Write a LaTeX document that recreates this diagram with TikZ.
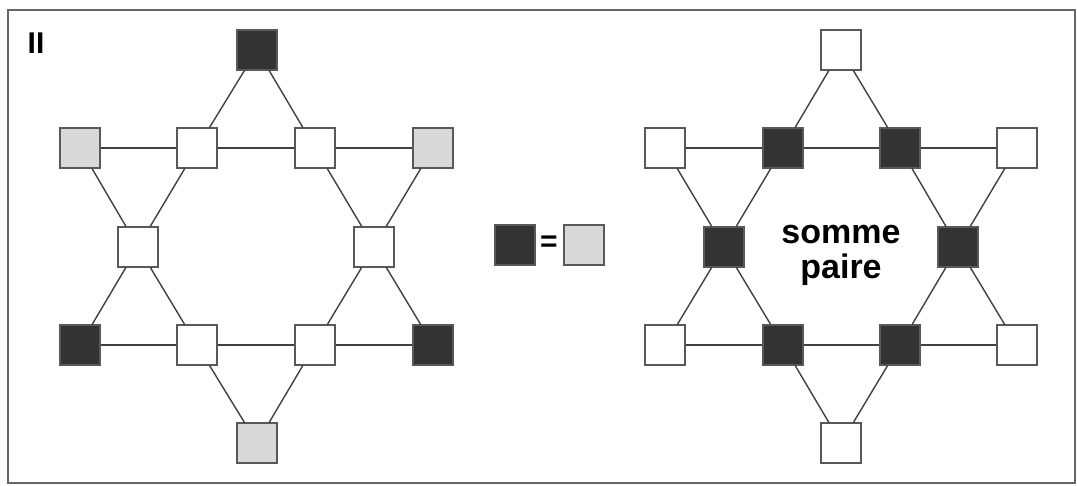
\documentclass[tikz,border=0pt]{standalone}
\usepackage{fontspec}
\setmainfont{Liberation Sans}
\begin{document}
\begin{tikzpicture}[x=1pt,y=-1pt,
  sq/.style={draw=black!65,line width=1.1pt,minimum size=40pt,inner sep=0pt,fill=white},
  dk/.style={sq,fill=black!80},
  lt/.style={sq,fill=black!15},
  wt/.style={sq},
  edge/.style={draw=black!75,line width=1.4pt}]
\useasboundingbox (0,0) rectangle (1077,486);
\draw[black!60,line width=1.5pt] (8,10) rectangle (1075,483);
\node[font=\bfseries\fontsize{30}{30}\selectfont,anchor=center] (lab) at (36,43) {II};
% left star
\begin{scope}[shift={(257,0)}]
\node[dk] (Lt) at (0,50) {};
\node[lt] (La) at (-177,148) {};
\node[wt] (Lb) at (-60,148) {};
\node[wt] (Lc) at (58,148) {};
\node[lt] (Ld) at (176,148) {};
\node[wt] (Le) at (-119,247) {};
\node[wt] (Lf) at (117,247) {};
\node[dk] (Lg) at (-177,345) {};
\node[wt] (Lh) at (-60,345) {};
\node[wt] (Li) at (58,345) {};
\node[dk] (Lj) at (176,345) {};
\node[lt] (Lk) at (0,443) {};
\end{scope}
% right star
\begin{scope}[shift={(841,0)}]
\node[wt] (Rt) at (0,50) {};
\node[wt] (Ra) at (-176,148) {};
\node[dk] (Rb) at (-58,148) {};
\node[dk] (Rc) at (59,148) {};
\node[wt] (Rd) at (176,148) {};
\node[dk] (Re) at (-117,247) {};
\node[dk] (Rf) at (117,247) {};
\node[wt] (Rg) at (-176,345) {};
\node[dk] (Rh) at (-58,345) {};
\node[dk] (Ri) at (59,345) {};
\node[wt] (Rj) at (176,345) {};
\node[wt] (Rk) at (0,443) {};
\end{scope}
\foreach \s in {L,R}{
  \draw[edge] (\s t) -- (\s b);
  \draw[edge] (\s t) -- (\s c);
  \draw[edge] (\s a) -- (\s b);
  \draw[edge] (\s b) -- (\s c);
  \draw[edge] (\s c) -- (\s d);
  \draw[edge] (\s a) -- (\s e);
  \draw[edge] (\s b) -- (\s e);
  \draw[edge] (\s c) -- (\s f);
  \draw[edge] (\s d) -- (\s f);
  \draw[edge] (\s e) -- (\s g);
  \draw[edge] (\s e) -- (\s h);
  \draw[edge] (\s f) -- (\s i);
  \draw[edge] (\s f) -- (\s j);
  \draw[edge] (\s g) -- (\s h);
  \draw[edge] (\s h) -- (\s i);
  \draw[edge] (\s i) -- (\s j);
  \draw[edge] (\s h) -- (\s k);
  \draw[edge] (\s i) -- (\s k);
}
% middle legend
\node[dk] (Md) at (515,245) {};
\node[lt] (Ml) at (584,245) {};
\node[font=\bfseries\fontsize{30}{30}\selectfont] (eq) at (549,244) {=};
\node[font=\bfseries\fontsize{34}{35}\selectfont,align=center] (txt) at (841,255) {somme\\paire};
\end{tikzpicture}
\end{document}
